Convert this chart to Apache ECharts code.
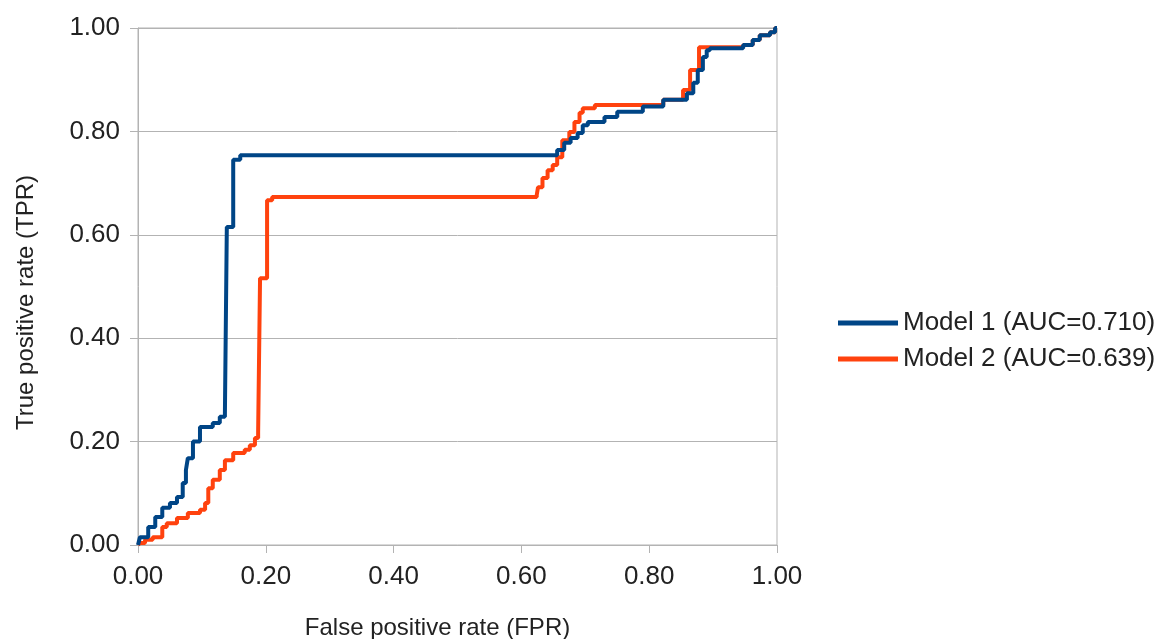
<!DOCTYPE html>
<html>
<head>
<meta charset="utf-8">
<script src="https://cdn.jsdelivr.net/npm/echarts@6/dist/echarts.min.js"></script>
<style>html,body{margin:0;padding:0;background:#fff}#c{width:1157px;height:639px}</style>
</head>
<body>
<div id="c"></div>
<script>
var seriesNames = ['Model 1 (AUC=0.710)', 'Model 2 (AUC=0.639)'];
var tickValues = [0, 0.2, 0.4, 0.6, 0.8, 1.0];
// Model 1: FPR / TPR corner points (TPR reached at given FPR)
var fpr1 = [0, 0.003, 0.016, 0.027, 0.038, 0.05, 0.061, 0.07, 0.075, 0.078, 0.086, 0.097, 0.117, 0.128, 0.136, 0.139, 0.149, 0.16,
  0.656, 0.667, 0.677, 0.688, 0.696, 0.704, 0.73, 0.75, 0.79, 0.822, 0.859, 0.869, 0.876, 0.884, 0.89, 0.895, 0.947, 0.962, 0.973, 0.989, 0.997, 1.0];
var tpr1 = [0, 0.015, 0.035, 0.054, 0.072, 0.081, 0.093, 0.12, 0.145, 0.168, 0.2, 0.228, 0.236, 0.248, 0.255, 0.615, 0.745, 0.754,
  0.764, 0.778, 0.787, 0.797, 0.812, 0.818, 0.828, 0.838, 0.848, 0.861, 0.874, 0.894, 0.919, 0.944, 0.957, 0.961, 0.967, 0.977, 0.986, 0.992, 1.0, 1.0];
// Model 2
var fpr2 = [0, 0.003, 0.011, 0.023, 0.038, 0.045, 0.061, 0.078, 0.097, 0.105, 0.11, 0.117, 0.128, 0.136, 0.149, 0.167, 0.175, 0.183, 0.188, 0.191, 0.202, 0.21,
  0.624, 0.626, 0.633, 0.641, 0.649, 0.656, 0.664, 0.675, 0.683, 0.691, 0.696, 0.715, 0.822, 0.853, 0.864, 0.878, 0.947, 0.962, 0.973, 0.989, 0.997, 1.0];
var tpr2 = [0, 0.004, 0.01, 0.015, 0.035, 0.042, 0.052, 0.062, 0.068, 0.081, 0.11, 0.126, 0.145, 0.164, 0.178, 0.184, 0.193, 0.207, 0.218, 0.516, 0.667, 0.673,
  0.677, 0.692, 0.71, 0.725, 0.735, 0.75, 0.783, 0.799, 0.818, 0.836, 0.845, 0.851, 0.861, 0.88, 0.919, 0.963, 0.967, 0.977, 0.986, 0.992, 1.0, 1.0];

function pairs(xs, ys){ return xs.map(function(x,i){ return [x, ys[i]]; }); }
var FONT = '"Liberation Sans", Arial, sans-serif';
var chart = echarts.init(document.getElementById('c'), null, {renderer:'canvas'});
var axisCommon = {
  type: 'value', min: 0, max: 1, interval: 0.2,
  axisLine: {show: true, lineStyle: {color: '#b3b3b3', width: 1}},
  axisTick: {show: true, length: 8, lineStyle: {color: '#b3b3b3'}},
  axisLabel: {color: '#222', fontSize: 26, fontFamily: FONT, formatter: function(v){ return v.toFixed(2); }},
  nameLocation: 'middle',
  nameTextStyle: {color: '#222', fontSize: 24, fontFamily: FONT}
};
chart.setOption({
  animation: false,
  backgroundColor: '#fff',
  grid: {left: 138, right: 380, top: 28, bottom: 94, outerBoundsMode: 'none', show: true, borderColor: '#b3b3b3', borderWidth: 1},
  legend: {
    orient: 'vertical', left: 833, top: 305,
    data: seriesNames,
    icon: 'rect', itemWidth: 60, itemHeight: 5, itemGap: 10,
    textStyle: {color: '#222', fontSize: 26, fontFamily: FONT, lineHeight: 26}
  },
  xAxis: Object.assign({}, axisCommon, {
    name: 'False positive rate (FPR)', nameGap: 71,
    nameTextStyle: Object.assign({}, axisCommon.nameTextStyle, {padding: [0, 40, 0, 0]}),
    splitLine: {show: false},
    axisLabel: Object.assign({}, axisCommon.axisLabel, {margin: 19})
  }),
  yAxis: Object.assign({}, axisCommon, {
    name: 'True positive rate (TPR)', nameGap: 100,
    nameTextStyle: Object.assign({}, axisCommon.nameTextStyle, {padding: [0, 32, 0, 0]}),
    splitLine: {show: true, lineStyle: {color: '#b3b3b3', width: 1}},
    axisLabel: Object.assign({}, axisCommon.axisLabel, {margin: 18})
  }),
  series: [
    {name: seriesNames[1], type: 'line', step: 'end', showSymbol: false, data: pairs(fpr2, tpr2),
      lineStyle: {color: '#ff420e', width: 4}, itemStyle: {color: '#ff420e'}},
    {name: seriesNames[0], type: 'line', step: 'end', showSymbol: false, data: pairs(fpr1, tpr1),
      lineStyle: {color: '#004586', width: 4}, itemStyle: {color: '#004586'}}
  ]
});
</script>
</body>
</html>
